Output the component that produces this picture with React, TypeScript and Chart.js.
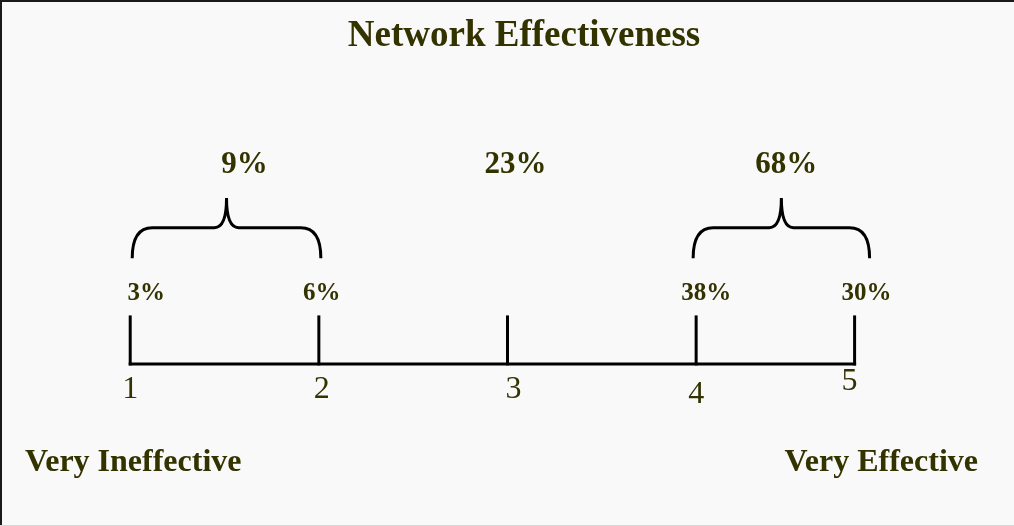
import React, { useEffect, useRef } from 'react';
import { Chart, registerables } from 'chart.js';

Chart.register(...registerables);

// Rating scale and survey results
const chartTitle = 'Network Effectiveness';
const ratings = ['1', '2', '3', '4', '5'];
const ratingPositions = [1, 2, 3, 4, 4.84];
const responseShares = [3, 6, 23, 38, 30];
const groupMembers = [[0, 1], [2], [3, 4]];
const endLabels = ['Very Ineffective', 'Very Effective'];

const INK = '#333300';
const SERIF = "'Liberation Serif', 'Times New Roman', serif";

// Vertical levels in y-scale units: the axis line is 0, a tick mark is 1 tall
const LEVEL = {
  tickTop: 1,
  share: 1.5,
  braceFoot: 2.25,
  braceBar: 2.9,
  braceTip: 3.53,
  groupShare: 4.23,
  rating: -0.55,
  ends: -2.1,
};

// Small hand adjustments (px) for label placement
const ratingNudgeX = [0, 3, 6, 0, -5];
const ratingNudgeY = [0, 0, 0, 5, -8];
const shareNudgeX = [16, 3, 0, 10, 12];
const groupNudgeX = [18, 8, 5];
const bracePad = [[2, 2], [0, 0], [-3, 15]];

const pct = (v: number) => `${v}%`;

function drawBrace(
  ctx: CanvasRenderingContext2D,
  x0: number,
  x1: number,
  yFoot: number,
  yBar: number,
  yTip: number
) {
  const xm = (x0 + x1) / 2;
  const r = 20;
  const c = 12;
  ctx.beginPath();
  ctx.moveTo(x0, yFoot);
  ctx.quadraticCurveTo(x0, yBar, x0 + r, yBar);
  ctx.lineTo(xm - c, yBar);
  ctx.quadraticCurveTo(xm, yBar, xm, yTip);
  ctx.quadraticCurveTo(xm, yBar, xm + c, yBar);
  ctx.lineTo(x1 - r, yBar);
  ctx.quadraticCurveTo(x1, yBar, x1, yFoot);
  ctx.stroke();
}

const scaleDecor = {
  id: 'scaleDecor',
  beforeDraw(chart: any) {
    const { ctx, width, height } = chart;
    ctx.save();
    ctx.fillStyle = '#f9f9f9';
    ctx.fillRect(0, 0, width, height);
    ctx.fillStyle = '#1a1a1a';
    ctx.fillRect(0, 0, width, 2);
    ctx.fillRect(0, 0, 2, height);
    ctx.fillStyle = '#d6d6d6';
    ctx.fillRect(0, height - 1, width, 1);
    ctx.restore();
  },
  afterDatasetsDraw(chart: any) {
    const { ctx } = chart;
    const xs = chart.scales.x;
    const ys = chart.scales.y;
    const px = (i: number) => xs.getPixelForValue(ratingPositions[i]);
    const py = (v: number) => ys.getPixelForValue(v);

    ctx.save();
    ctx.fillStyle = INK;
    ctx.strokeStyle = '#000';
    ctx.lineWidth = 3;
    ctx.lineCap = 'butt';
    ctx.textAlign = 'center';
    ctx.textBaseline = 'middle';

    // rating numbers under the axis
    ctx.font = `32px ${SERIF}`;
    ratings.forEach((r, i) => {
      ctx.fillText(r, px(i) + ratingNudgeX[i], py(LEVEL.rating) + ratingNudgeY[i]);
    });

    // groups: braces, group totals and per-rating shares
    groupMembers.forEach((members, g) => {
      const total = members.reduce((s, i) => s + responseShares[i], 0);
      const first = members[0];
      const last = members[members.length - 1];
      const x0 = px(first) + bracePad[g][0];
      const x1 = px(last) + bracePad[g][1];
      if (members.length > 1) {
        drawBrace(ctx, x0, x1, py(LEVEL.braceFoot), py(LEVEL.braceBar), py(LEVEL.braceTip));
        ctx.font = `bold 25px ${SERIF}`;
        members.forEach((i) => {
          ctx.fillText(pct(responseShares[i]), px(i) + shareNudgeX[i], py(LEVEL.share));
        });
      }
      ctx.font = `bold 31px ${SERIF}`;
      ctx.fillText(pct(total), (x0 + x1) / 2 + groupNudgeX[g], py(LEVEL.groupShare));
    });

    // end-point descriptions
    ctx.font = `bold 32px ${SERIF}`;
    ctx.textAlign = 'left';
    ctx.fillText(endLabels[0], 25, py(LEVEL.ends));
    ctx.textAlign = 'right';
    ctx.fillText(endLabels[1], 978, py(LEVEL.ends));
    ctx.restore();
  },
};

export default function App() {
  const canvasRef = useRef<HTMLCanvasElement | null>(null);

  useEffect(() => {
    document.body.style.margin = '0';
    const canvas = canvasRef.current;
    if (!canvas) return;

    const lastPos = ratingPositions[ratingPositions.length - 1];
    const lineStyle = {
      showLine: true,
      pointRadius: 0,
      borderColor: '#000',
      borderWidth: 3,
      borderCapStyle: 'square' as const,
      fill: false,
    };

    const datasets = [
      {
        ...lineStyle,
        data: [
          { x: ratingPositions[0], y: 0 },
          { x: lastPos, y: 0 },
        ],
      },
      ...ratingPositions.map((p) => ({
        ...lineStyle,
        data: [
          { x: p, y: 0 },
          { x: p, y: LEVEL.tickTop },
        ],
      })),
    ];

    const chart = new Chart(canvas, {
      type: 'scatter',
      data: { datasets },
      options: {
        responsive: false,
        animation: false,
        events: [],
        layout: { padding: { left: 34, right: 0, top: 0, bottom: 0 } },
        scales: {
          x: { type: 'linear', min: 0.49, max: 5.685, display: false },
          y: { type: 'linear', min: -3.45, max: 6.34, display: false },
        },
        plugins: {
          legend: { display: false },
          tooltip: { enabled: false },
          title: {
            display: true,
            text: chartTitle,
            color: INK,
            font: { family: SERIF, size: 37, weight: 'bold', lineHeight: 1.2 },
            padding: { top: 14, bottom: 7.6 },
          },
        },
      },
      plugins: [scaleDecor],
    });

    return () => chart.destroy();
  }, []);

  return (
    <div style={{ width: 1014, height: 526 }}>
      <canvas ref={canvasRef} width={1014} height={526} />
    </div>
  );
}
